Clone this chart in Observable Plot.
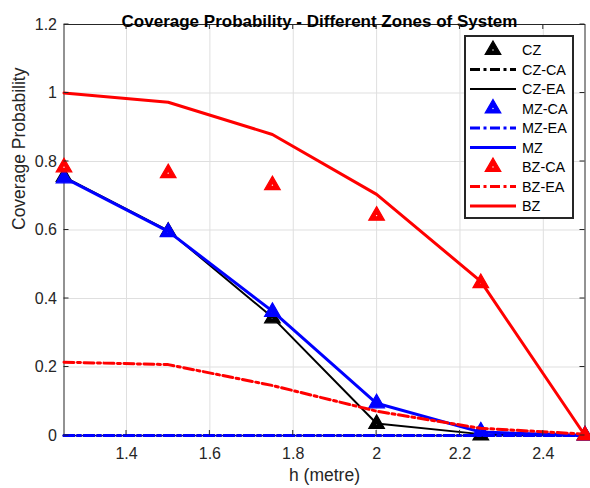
<!DOCTYPE html>
<html>
<head>
<meta charset="utf-8">
<script src="https://cdn.jsdelivr.net/npm/d3@7"></script>
<script src="https://cdn.jsdelivr.net/npm/@observablehq/plot@0.6"></script>
<style>
  html, body { margin: 0; padding: 0; background: #fff; }
  #wrap { position: relative; width: 590px; height: 488px; }
  #legend { position: absolute; left: 0; top: 0; }
</style>
</head>
<body>
<div id="wrap"></div>
<script>
// ---- data ----
const h = [1.25, 1.5, 1.75, 2, 2.25, 2.5];
const CZ    = [0.755, 0.595, 0.342, 0.034, 0.0, 0.0];
const CZ_CA = [0, 0, 0, 0, 0, 0];
const CZ_EA = [0.755, 0.598, 0.345, 0.035, 0.004, 0];
const MZ_CA = [0.751, 0.594, 0.361, 0.094, 0.012, 0];
const MZ_EA = [0, 0, 0, 0, 0, 0];
const MZ    = [0.753, 0.596, 0.363, 0.094, 0.01, 0];
const BZ_CA = [0.783, 0.766, 0.731, 0.642, 0.445, 0];
const BZ_EA = [0.214, 0.207, 0.146, 0.071, 0.021, 0.004];
const BZ    = [1.0, 0.973, 0.879, 0.704, 0.45, 0];

const xTicks = [1.4, 1.6, 1.8, 2, 2.2, 2.4];
const yTicks = [0, 0.2, 0.4, 0.6, 0.8, 1, 1.2];
const titleText = "Coverage Probability - Different Zones of System";
const xLabel = "h (metre)";
const yLabel = "Coverage Probability";

const series = [
  {name: "CZ",    values: CZ,    color: "#000000", kind: "marker"},
  {name: "CZ-CA", values: CZ_CA, color: "#000000", kind: "dashdot"},
  {name: "CZ-EA", values: CZ_EA, color: "#000000", kind: "thin"},
  {name: "MZ-CA", values: MZ_CA, color: "#0000ff", kind: "marker"},
  {name: "MZ-EA", values: MZ_EA, color: "#0000ff", kind: "dashdot"},
  {name: "MZ",    values: MZ,    color: "#0000ff", kind: "solid"},
  {name: "BZ-CA", values: BZ_CA, color: "#ff0000", kind: "marker"},
  {name: "BZ-EA", values: BZ_EA, color: "#ff0000", kind: "dashdot"},
  {name: "BZ",    values: BZ,    color: "#ff0000", kind: "solid"}
];

const DASH = "10,3.5,3,3.5";
const styleFor = {
  dashdot: {strokeWidth: 3, strokeDasharray: DASH},
  thin: {strokeWidth: 2},
  solid: {strokeWidth: 3}
};

const FONT = "'Liberation Sans', Arial, Helvetica, sans-serif";
const fmt = d => String(+d.toFixed(2));
const marks = [
  Plot.gridX(xTicks, {stroke: "#dfdfdf", strokeOpacity: 1}),
  Plot.gridY(yTicks, {stroke: "#dfdfdf", strokeOpacity: 1}),
  Plot.frame({stroke: "#262626", strokeWidth: 1}),
  Plot.axisX(xTicks, {tickSize: 0, tickPadding: 12, tickFormat: fmt, label: null, fontSize: 16, fill: "#262626"}),
  Plot.axisY(yTicks, {tickSize: 0, tickPadding: 7, tickFormat: fmt, label: null, fontSize: 16, fill: "#262626"})
];

for (const s of series) {
  const rows = h.map((x, i) => ({x, y: s.values[i]}));
  if (s.kind === "marker") {
    marks.push(Plot.dot(rows, {x: "x", y: "y", symbol: "triangle", r: 5.8, fill: s.color, stroke: s.color, strokeWidth: 1.2}));
    marks.push(Plot.dot(rows, {x: "x", y: "y", r: 0.7, fill: "#ffffff"}));
  } else {
    marks.push(Plot.line(rows, {x: "x", y: "y", stroke: s.color, ...styleFor[s.kind]}));
  }
}

marks.push(Plot.text([titleText], {frameAnchor: "top", dx: -5, dy: -9.6, fontWeight: "bold", fontSize: 17, fill: "#000", stroke: "none"}));
marks.push(Plot.text([xLabel], {frameAnchor: "bottom", dy: 45, fontSize: 17.5, fill: "#262626", stroke: "none"}));
marks.push(Plot.text([yLabel], {frameAnchor: "left", dx: -45, rotate: -90, fontSize: 17.5, fill: "#262626", stroke: "none"}));

const plot = Plot.plot({
  width: 590,
  height: 488,
  marginLeft: 63.5,
  marginRight: 5.5,
  marginTop: 24,
  marginBottom: 53,
  x: {domain: [1.25, 2.5]},
  y: {domain: [0, 1.2]},
  style: {fontFamily: FONT, fontSize: "16px", color: "#262626", background: "#fff"},
  marks
});
document.getElementById("wrap").appendChild(plot);

// inward ticks on all four sides, placed with Plot's own scales
const sx = plot.scale("x"), sy = plot.scale("y");
const svg = d3.select(plot);
const [x0, x1] = sx.range, [y0, y1] = sy.range; // y0 bottom, y1 top
const tg = svg.append("g").attr("stroke", "#262626").attr("stroke-width", 1);
for (const t of xTicks) {
  const px = sx.apply(t);
  tg.append("line").attr("x1", px).attr("x2", px).attr("y1", y0).attr("y2", y0 - 5);
  tg.append("line").attr("x1", px).attr("x2", px).attr("y1", y1).attr("y2", y1 + 5);
}
for (const t of yTicks) {
  const py = sy.apply(t);
  tg.append("line").attr("y1", py).attr("y2", py).attr("x1", x0).attr("x2", x0 + 5);
  tg.append("line").attr("y1", py).attr("y2", py).attr("x1", x1).attr("x2", x1 - 5);
}

// legend (overlay box at top-right, like MATLAB's legend)
const LX = 465, LY = 36, LW = 108, LH = 182, rowH = 19.5;
const lg = d3.select("#wrap").append("svg").attr("id", "legend")
  .attr("width", 590).attr("height", 488)
  .style("font-family", FONT)
  .style("font-size", "14.4px");
lg.append("rect").attr("x", LX).attr("y", LY).attr("width", LW).attr("height", LH)
  .attr("fill", "#fff").attr("stroke", "#262626").attr("stroke-width", 2);
series.forEach((s, i) => {
  const cy = LY + 14 + i * rowH;
  const g = lg.append("g");
  if (s.kind === "marker") {
    g.append("path").attr("d", d3.symbol(d3.symbolTriangle, Math.PI * 5.8 * 5.8)())
      .attr("transform", `translate(${LX + 28},${cy})`)
      .attr("fill", s.color).attr("stroke", s.color).attr("stroke-width", 1.2);
    g.append("circle").attr("cx", LX + 28).attr("cy", cy).attr("r", 0.7).attr("fill", "#fff");
  } else {
    const st = styleFor[s.kind];
    g.append("line").attr("x1", LX + 5).attr("x2", LX + 51).attr("y1", cy).attr("y2", cy)
      .attr("stroke", s.color).attr("stroke-width", st.strokeWidth)
      .attr("stroke-dasharray", st.strokeDasharray || null);
  }
  g.append("text").attr("x", LX + 57).attr("y", cy).attr("dy", "0.35em")
    .attr("fill", "#000").text(s.name);
});
</script>
</body>
</html>
